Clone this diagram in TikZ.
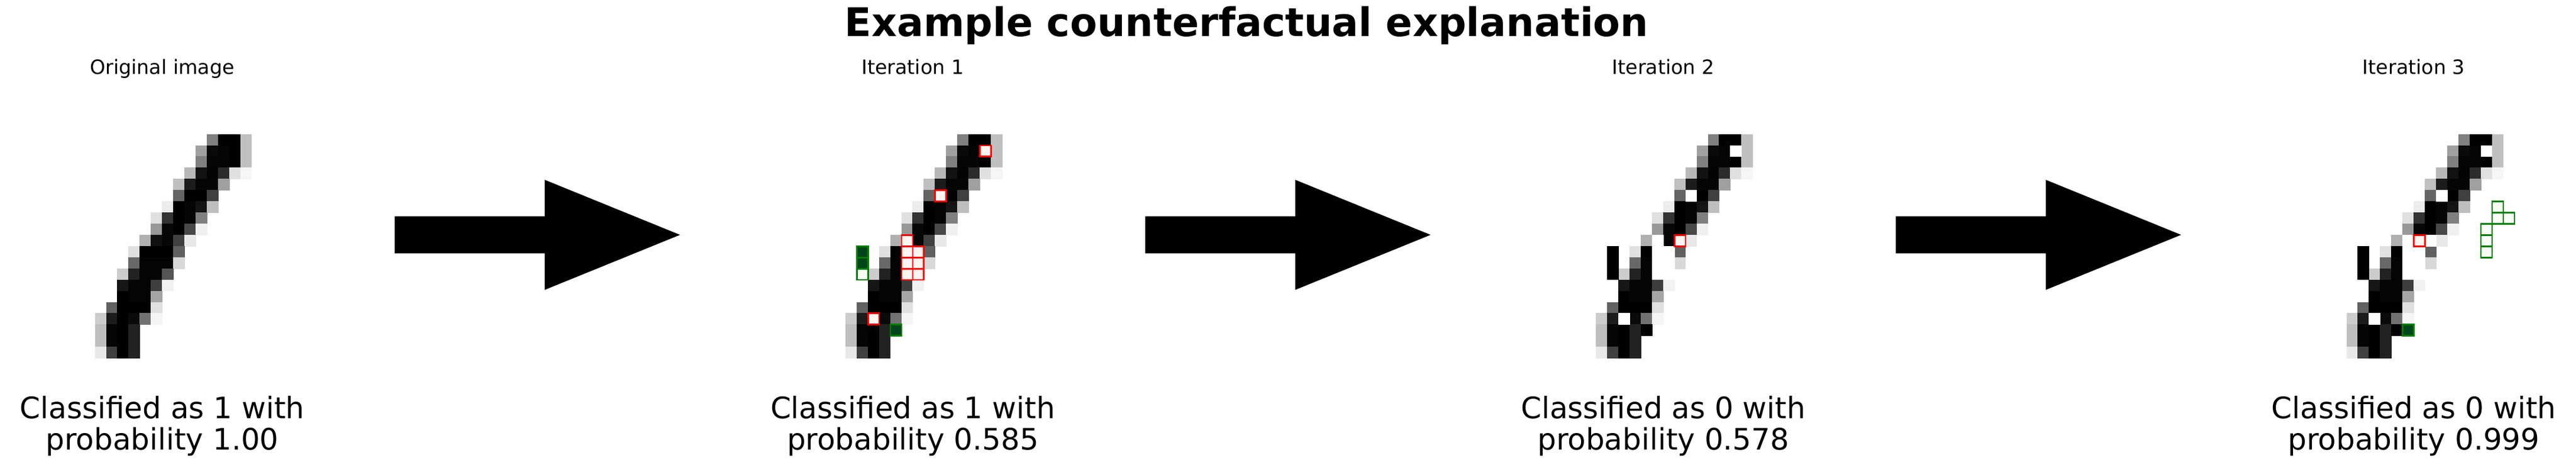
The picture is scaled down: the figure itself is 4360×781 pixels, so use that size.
\documentclass[tikz,border=0pt]{standalone}
\usepackage{fontspec}
\setmainfont{DejaVu Sans}
\usetikzlibrary{calc}
\definecolor{rfill}{HTML}{FFF5F0}
\definecolor{gdark}{HTML}{00441B}
\definecolor{glight}{HTML}{F7FCF5}
\definecolor{mred}{HTML}{FF0000}
\definecolor{mgreen}{HTML}{008000}
\def\pw{18.93}
\def\oy{227}
\def\baselist{0/10/128,0/11/0,0/12/0,0/13/192,
1/9/160,1/10/10,1/11/4,1/12/0,1/13/192,
2/9/128,2/10/5,2/11/5,2/12/0,2/13/192,
3/8/184,3/9/18,3/10/3,3/11/44,3/12/224,3/13/246,
4/7/192,4/8/28,4/9/5,4/10/5,4/11/160,
5/7/100,5/8/0,5/9/0,5/10/64,
6/6/236,6/7/0,6/8/5,6/9/20,6/10/190,
7/5/224,7/6/51,7/7/0,7/8/5,7/9/128,
8/5/152,8/6/7,8/7/0,8/8/72,8/9/240,
9/4/176,9/5/16,9/6/6,9/7/64,9/8/232,
10/3/224,10/4/0,10/5/0,10/6/0,10/7/96,
11/3/104,11/4/4,11/5/4,11/6/4,11/7/216,
12/2/204,12/3/34,12/4/4,12/5/4,12/6/85,
13/2/22,13/3/4,13/4/4,13/5/62,13/6/242,
14/2/0,14/3/4,14/4/4,14/5/166,
15/1/98,15/2/0,15/3/0,15/4/0,15/5/224,
16/0/204,16/1/28,16/2/0,16/3/10,16/4/114,16/5/245,
17/0/190,17/1/5,17/2/0,17/3/34,
18/0/190,18/1/5,18/2/0,18/3/34,
19/0/232,19/1/64,19/2/0,19/3/34}
\def\whitelist{1/12/255,5/8/255,9/5/255,10/5/255,10/6/255,11/5/255,11/6/255,12/5/255,12/6/255,16/2/255,10/1/0,11/1/0,12/1/0,17/4/0}
\def\extralist{9/7/255}
\newcommand\pixels[2]{%
  \foreach \r/\c/\v in #2 {%
    \definecolor{pc}{RGB}{\v,\v,\v}%
    \fill[pc] ({#1+\c*\pw-0.4},{\oy+\r*\pw-0.4}) rectangle ({#1+(\c+1)*\pw+0.4},{\oy+(\r+1)*\pw+0.4});
  }}
\newcommand\bx[4]{%
  \filldraw[#2] ({#1+#4*\pw},{\oy+#3*\pw}) rectangle ({#1+(#4+1)*\pw},{\oy+(#3+1)*\pw});}
\tikzset{
  redbox/.style={fill=rfill, draw=mred, line width=1.39pt},
  gdbox/.style={fill=gdark, draw=mgreen, line width=1.39pt},
  glbox/.style={fill=glight, draw=mgreen, line width=1.39pt},
  subtext/.style={font=\fontsize{16.67}{20}\selectfont, anchor=base, inner sep=0pt},
  captext/.style={font=\fontsize{25}{26.5}\selectfont, align=center, anchor=north, inner sep=0pt},
  bigarrow/.style={fill=black}
}
\begin{document}
\begin{tikzpicture}[x=0.5pt, y=-0.5pt]
\useasboundingbox (0,0) rectangle (4360,781);
\fill[white] (0,0) rectangle (4360,781);
% title
\node[font=\fontsize{33.33}{40}\selectfont\bfseries, anchor=base, inner sep=0pt] (title) at (2110,62) {Example counterfactual explanation};
% panel 0
\pixels{161}{\baselist}
% panel 1
\pixels{1431.3}{\baselist}
\foreach \r/\c in {1/12,5/8,9/5,10/5,10/6,11/5,11/6,12/5,12/6,16/2} {\bx{1431.3}{redbox}{\r}{\c}}
\foreach \r/\c in {10/1,11/1,17/4} {\bx{1431.3}{gdbox}{\r}{\c}}
\bx{1431.3}{glbox}{12}{1}
% panel 2
\pixels{2701.6}{\baselist}
\pixels{2701.6}{\whitelist}
\bx{2701.6}{redbox}{9}{7}
% panel 3
\pixels{3971.9}{\baselist}
\pixels{3971.9}{\whitelist}
\pixels{3971.9}{\extralist}
\bx{3971.9}{redbox}{9}{6}
\foreach \r/\c in {6/13,7/13,7/14,8/12,9/12,10/12} {\bx{3971.9}{glbox}{\r}{\c}}
\bx{3971.9}{gdbox}{17}{5}
% subtitles
\node[subtext] (s0) at (274.6,126) {Original image};
\node[subtext] (s1) at (1544.9,126) {Iteration 1};
\node[subtext] (s2) at (2815.2,126) {Iteration 2};
\node[subtext] (s3) at (4085.5,126) {Iteration 3};
% captions
\node[captext] (c0) at (274.6,669) {Classified as 1 with\\probability 1.00};
\node[captext] (c1) at (1544.9,669) {Classified as 1 with\\probability 0.585};
\node[captext] (c2) at (2815.2,669) {Classified as 0 with\\probability 0.578};
\node[captext] (c3) at (4085.5,669) {Classified as 0 with\\probability 0.999};
% arrows
\foreach \k in {0,1,2} {
  \coordinate (a\k) at ({668+1270.3*\k},397);
  \fill[bigarrow] ($(a\k)+(0,-31.3)$) -- ++(254,0) -- ++(0,-61.7) -- ($(a\k)+(483,0)$) -- ($(a\k)+(254,93)$) -- ++(0,-61.7) -- ($(a\k)+(0,31.3)$) -- cycle;
}
\end{tikzpicture}
\end{document}
